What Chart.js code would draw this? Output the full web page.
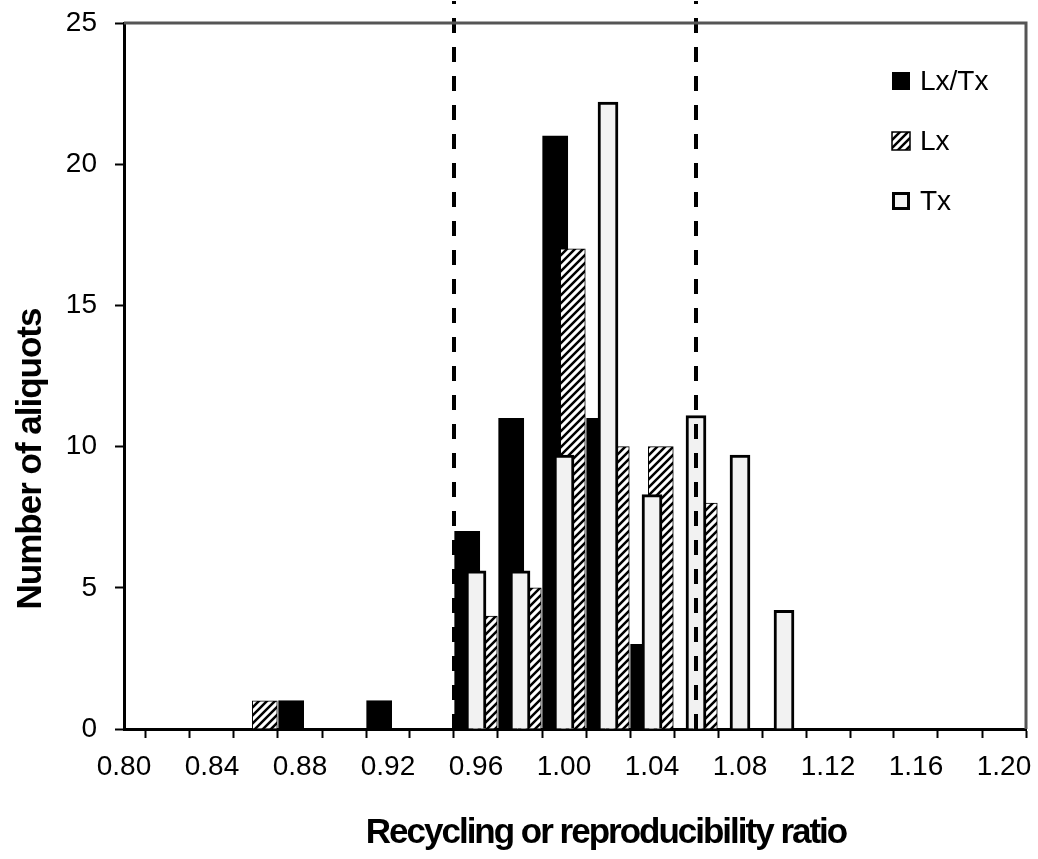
<!DOCTYPE html>
<html>
<head>
<meta charset="utf-8">
<script src="https://cdn.jsdelivr.net/npm/chart.js@4.4.1/dist/chart.umd.min.js"></script>
<style>
  html, body { margin: 0; padding: 0; background: #fff; }
  #wrap { width: 1038px; height: 859px; }
</style>
</head>
<body>
<div id="wrap"><canvas id="ratioChart" width="1038" height="859"></canvas></div>
<script>
// Bar positions (ratio) and counts
const lxTxRatio = [0.876, 0.916, 0.956, 0.976, 0.996, 1.016, 1.036];
const lxTxCount = [1, 1, 7, 11, 21, 11, 3];

const lxRatio = [0.864, 0.964, 0.984, 1.004, 1.024, 1.044, 1.064];
const lxCount = [1, 4, 5, 17, 10, 10, 8];

const txRatio = [0.96, 0.98, 1.00, 1.02, 1.04, 1.06, 1.08, 1.10];
const txCount = [5.6, 5.6, 9.7, 22.2, 8.3, 11.1, 9.7, 4.2];

// acceptance limits drawn as dashed lines
const limits = [0.95, 1.06];

const xMin = 0.80, xMax = 1.21, xStep = 0.02;
const yMin = 0, yMax = 25, yStep = 5;

const FONT = '"Liberation Sans", Arial, Helvetica, sans-serif';

function toPoints(xs, ys) {
    return xs.map((x, i) => ({ x: x, y: ys[i] }));
}

// diagonal "/" hatch for the Lx series
function makeHatch() {
    const c = document.createElement('canvas');
    c.width = 8; c.height = 8;
    const g = c.getContext('2d');
    g.fillStyle = '#fff';
    g.fillRect(0, 0, 8, 8);
    g.strokeStyle = '#000';
    g.lineWidth = 2.5;
    g.beginPath();
    g.moveTo(-2, 10); g.lineTo(10, -2);
    g.moveTo(-2, 2); g.lineTo(2, -2);
    g.moveTo(6, 10); g.lineTo(10, 6);
    g.stroke();
    return g.createPattern(c, 'repeat');
}
const hatch = makeHatch();

// no automatic label padding, the plot area is set by layout.padding
function fixPadding(scale) {
    scale.paddingTop = 0;
    scale.paddingBottom = 0;
    scale.paddingLeft = 0;
    scale.paddingRight = 0;
}

// dashed limit lines, on top of the bars
const limitLines = {
    id: 'limitLines',
    afterDatasetsDraw(chart) {
        const ctx = chart.ctx;
        const xs = chart.scales.x;
        const area = chart.chartArea;
        ctx.save();
        ctx.strokeStyle = '#000';
        ctx.lineWidth = 4;
        ctx.setLineDash([15, 14]);
        limits.forEach(v => {
            const px = Math.round(xs.getPixelForValue(v));
            ctx.beginPath();
            ctx.moveTo(px, area.bottom);
            ctx.lineTo(px, area.top - 22);
            ctx.stroke();
        });
        ctx.restore();
    }
};

// plot-area frame (top and right), legend and axis titles
const decorations = {
    id: 'decorations',
    afterDraw(chart) {
        const ctx = chart.ctx;
        const area = chart.chartArea;
        ctx.save();

        // frame
        ctx.strokeStyle = '#555';
        ctx.lineWidth = 3;
        ctx.beginPath();
        ctx.moveTo(area.left, area.top);
        ctx.lineTo(area.right, area.top);
        ctx.lineTo(area.right, area.bottom);
        ctx.stroke();

        // legend
        const lx = area.right - 134;
        const size = 18;
        ctx.font = '28px ' + FONT;
        ctx.textBaseline = 'middle';
        ctx.textAlign = 'left';
        chart.data.datasets.forEach((ds, i) => {
            const cy = area.top + 58 + i * 60;
            const top = cy - size / 2;
            if (i === 0) {
                ctx.fillStyle = '#000';
                ctx.fillRect(lx, top, size, size);
            } else if (i === 1) {
                ctx.fillStyle = hatch;
                ctx.fillRect(lx, top, size, size);
                ctx.lineWidth = 1.5;
                ctx.strokeStyle = '#000';
                ctx.strokeRect(lx, top, size, size);
            } else {
                ctx.fillStyle = '#f2f2f2';
                ctx.fillRect(lx, top, size, size);
                ctx.lineWidth = 3;
                ctx.strokeStyle = '#000';
                ctx.strokeRect(lx + 1.5, top + 1.5, size - 3, size - 3);
            }
            ctx.fillStyle = '#000';
            ctx.fillText(ds.label, lx + 28, cy + 1);
        });

        // axis titles
        ctx.font = 'bold 35px ' + FONT;
        ctx.fillStyle = '#000';
        ctx.textAlign = 'center';
        ctx.textBaseline = 'alphabetic';
        ctx.letterSpacing = '-2px';
        ctx.fillText('Recycling or reproducibility ratio', 606, 843);

        ctx.translate(41, 459);
        ctx.rotate(-Math.PI / 2);
        ctx.letterSpacing = '-1px';
        ctx.fillText('Number of aliquots', 0, 0);
        ctx.restore();
    }
};

const ctx = document.getElementById('ratioChart').getContext('2d');

new Chart(ctx, {
    type: 'bar',
    data: {
        datasets: [
            {
                label: 'Lx/Tx',
                data: toPoints(lxTxRatio, lxTxCount),
                backgroundColor: '#000',
                borderWidth: 0,
                barThickness: 25,
                order: 3
            },
            {
                label: 'Lx',
                data: toPoints(lxRatio, lxCount),
                backgroundColor: hatch,
                borderColor: '#000',
                borderWidth: 1,
                barThickness: 25,
                order: 2
            },
            {
                label: 'Tx',
                data: toPoints(txRatio, txCount),
                backgroundColor: '#f2f2f2',
                borderColor: '#000',
                borderWidth: 3,
                barThickness: 20,
                order: 1
            }
        ]
    },
    options: {
        responsive: false,
        animation: false,
        grouped: false,
        layout: { padding: { top: 23, right: 12, left: 0, bottom: 0 } },
        plugins: {
            legend: { display: false },
            tooltip: { enabled: false }
        },
        scales: {
            x: {
                type: 'linear',
                min: xMin,
                max: xMax,
                offset: false,
                grid: {
                    drawOnChartArea: false,
                    drawTicks: true,
                    tickLength: 9,
                    tickWidth: 2,
                    tickColor: '#000'
                },
                border: { color: '#000', width: 3 },
                ticks: {
                    stepSize: xStep,
                    includeBounds: false,
                    autoSkip: false,
                    maxRotation: 0,
                    padding: 12,
                    color: '#000',
                    font: { family: FONT, size: 28 },
                    callback: function(value, index) {
                        return index % 2 === 0 ? Number(value).toFixed(2) : '';
                    }
                },
                afterFit: function(scale) {
                    scale.height = 130;
                    fixPadding(scale);
                }
            },
            y: {
                min: yMin,
                max: yMax,
                grid: {
                    drawOnChartArea: false,
                    drawTicks: true,
                    tickLength: 9,
                    tickWidth: 2,
                    tickColor: '#000'
                },
                border: { color: '#000', width: 3 },
                ticks: {
                    stepSize: yStep,
                    padding: 18,
                    color: '#000',
                    font: { family: FONT, size: 28 }
                },
                afterFit: function(scale) {
                    scale.width = 124;
                    fixPadding(scale);
                }
            }
        }
    },
    plugins: [limitLines, decorations]
});
</script>
</body>
</html>
